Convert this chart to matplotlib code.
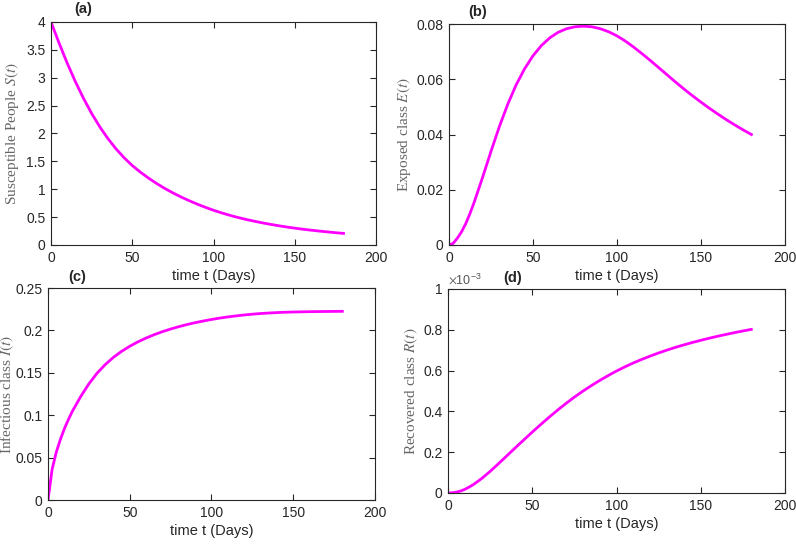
import matplotlib
matplotlib.use("Agg")
import matplotlib.pyplot as plt
import numpy as np
from matplotlib.ticker import FuncFormatter

plt.rcParams["font.family"] = ["Liberation Sans", "DejaVu Sans"]
plt.rcParams["mathtext.fontset"] = "stix"

# --- values ---
days = [0, 2.5, 5, 7.5, 10, 12.5, 15, 20, 25, 30, 35, 40, 45, 50, 55, 60, 65, 70, 75, 80, 85,
        90, 95, 100, 105, 110, 115, 120, 125, 130, 135, 140, 145, 150, 155, 160, 165, 170, 175, 180]

susceptible = [4.000, 3.810, 3.620, 3.440, 3.260, 3.095, 2.930, 2.630, 2.360, 2.120, 1.910, 1.725,
               1.565, 1.425, 1.307, 1.200, 1.103, 1.015, 0.935, 0.862, 0.795, 0.733, 0.676, 0.623,
               0.576, 0.533, 0.494, 0.459, 0.427, 0.398, 0.371, 0.346, 0.323, 0.302, 0.283, 0.266,
               0.250, 0.235, 0.221, 0.208]

exposed = [0.0, 0.0006, 0.0025, 0.0048, 0.0078, 0.0114, 0.0155, 0.0245, 0.0339, 0.0429, 0.0510,
           0.0580, 0.0638, 0.0685, 0.0722, 0.0750, 0.0770, 0.0783, 0.0790, 0.0792, 0.0790, 0.0783,
           0.0772, 0.0757, 0.0738, 0.0716, 0.0692, 0.0667, 0.0641, 0.0615, 0.0589, 0.0564, 0.0540,
           0.0517, 0.0495, 0.0474, 0.0454, 0.0435, 0.0417, 0.0400]

infectious = [0.0, 0.036, 0.056, 0.071, 0.084, 0.095, 0.105, 0.122, 0.137, 0.1495, 0.1597,
              0.1682, 0.1753, 0.1813, 0.1865, 0.1910, 0.1950, 0.1985, 0.2016, 0.2044, 0.2069,
              0.2091, 0.2111, 0.2129, 0.2145, 0.2159, 0.2171, 0.2182, 0.2191, 0.2199, 0.2205,
              0.2210, 0.2214, 0.2217, 0.2219, 0.2221, 0.2222, 0.2223, 0.2224, 0.2225]

# recovered class, in units of 1e-3
recovered_e3 = [0.0, 0.001, 0.0045, 0.0095, 0.018, 0.029, 0.041, 0.071, 0.106, 0.144, 0.183, 0.222,
                0.2605, 0.2985, 0.3355, 0.3715, 0.406, 0.439, 0.470, 0.499, 0.526, 0.5515, 0.5755,
                0.598, 0.6185, 0.6375, 0.655, 0.6713, 0.6865, 0.7007, 0.7139, 0.7262, 0.7377,
                0.7485, 0.7587, 0.7683, 0.7774, 0.786, 0.7942, 0.802]

W, H = 796, 545
INK = "#262626"
MAGENTA = "#ff00ff"

fig = plt.figure(figsize=(W / 100, H / 100), dpi=100)


def px_axes(l, t, r, b):
    return fig.add_axes([l / W, 1 - b / H, (r - l) / W, (b - t) / H])


def style(ax, ylab, ylim, yticks, fmt, label_x):
    ax.set_xlim(0, 200)
    ax.set_xticks([0, 50, 100, 150, 200])
    ax.set_ylim(*ylim)
    ax.set_yticks(yticks)
    ax.yaxis.set_major_formatter(FuncFormatter(fmt))
    ax.tick_params(direction="in", top=True, right=True, length=4, width=0.8,
                   labelsize=10, colors=INK, pad=4)
    for s in ax.spines.values():
        s.set_color(INK)
        s.set_linewidth(0.8)
    ax.set_xlabel("time t (Days)", fontsize=10.5, color=INK, labelpad=3)
    ax.set_ylabel(ylab, fontsize=11, color="#666666", family="Liberation Serif")
    ax.yaxis.set_label_coords(label_x, 0.5)


g = lambda v, p: "%g" % round(v, 6)

ax_a = px_axes(51, 22, 376, 245)
ax_a.plot(days, susceptible, color=MAGENTA, lw=2)
style(ax_a, "Susceptible People $S(t)$", (0, 4), np.arange(0, 4.01, 0.5), g, -0.092)

ax_b = px_axes(449, 24, 785, 245)
ax_b.plot(days, exposed, color=MAGENTA, lw=2)
style(ax_b, "Exposed class $E(t)$", (0, 0.08), np.arange(0, 0.0801, 0.02), g, -0.107)

ax_c = px_axes(48, 288, 375, 500)
ax_c.plot(days, infectious, color=MAGENTA, lw=2)
style(ax_c, "Infectious class $I(t)$", (0, 0.25), np.arange(0, 0.2501, 0.05), g, -0.097)

ax_d = px_axes(448, 289, 785, 493)
ax_d.plot(days, np.array(recovered_e3) * 1e-3, color=MAGENTA, lw=2)
style(ax_d, "Recovered class $R(t)$", (0, 1e-3), np.arange(0, 1.0001e-3, 0.2e-3),
      lambda v, p: "%g" % round(v * 1e3, 6), -0.083)
ax_d.text(0.0, 1.012, r"$\times\mathregular{10^{-3}}$", transform=ax_d.transAxes,
          fontsize=9, color="#555555", ha="left", va="bottom")

for lab, x, y in [("(a)", 83, 9), ("(b)", 478, 12), ("(c)", 77, 277), ("(d)", 513, 278)]:
    fig.text(x / W, 1 - y / H, lab, fontsize=10.5, weight="bold", color=INK,
             ha="center", va="center")

fig.savefig("out.png", dpi=100)
